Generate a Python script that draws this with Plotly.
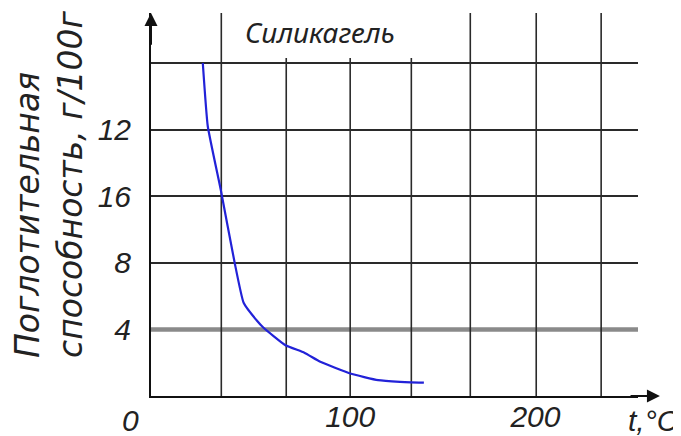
import plotly.graph_objects as go

# Data (temperature, absorption capacity)
temp = [26, 28.5, 35, 42, 46.5, 53, 56.5, 67.5, 77, 85, 100, 114, 125, 137]
capacity = [20, 16.2, 12.4, 8, 5.6, 4.55, 4.1, 3.05, 2.6, 2.05, 1.35, 0.95, 0.85, 0.8]

y_tick_vals = [4, 8, 12, 16, 20]
y_tick_text = ["4", "8", "16", "12", ""]
x_tick_vals = [100, 193]
x_tick_text = ["100", "200"]

# vertical grid line positions and their tops
x_grid_tall = [35.3, 160.3, 193.4, 226.0]
x_grid_short = [67.9, 100.0, 130.7]

X_MAX = 244.5
Y_MAX = 23.0
GRID = "#2a2a2a"
OFF = 8  # page body margin
W, H = 681 - OFF, 436 - OFF
L, R, T, B = 151 - OFF, 681 - 638, 13 - OFF, 436 - 396
PW, PH = W - L - R, H - T - B


def px_x(p):
    return (p - OFF - L) / PW


def px_y(p):
    return (H - B - (p - OFF)) / PH


fig = go.Figure()
fig.add_trace(go.Scatter(x=temp, y=capacity, mode="lines",
                         line=dict(color="#2222d8", width=2.2, shape="spline", smoothing=0.4),
                         showlegend=False, hoverinfo="skip"))

shapes = []
shapes.append(dict(type="line", xref="x", yref="y", x0=0, x1=X_MAX, y0=4, y1=4,
                   line=dict(color="#8a8a8a", width=4.5), layer="between"))
for xv in x_grid_tall:
    shapes.append(dict(type="line", xref="x", yref="y", x0=xv, x1=xv, y0=0, y1=Y_MAX,
                       line=dict(color=GRID, width=1.6), layer="between"))
for xv in x_grid_short:
    shapes.append(dict(type="line", xref="x", yref="y", x0=xv, x1=xv, y0=0, y1=20.3,
                       line=dict(color=GRID, width=1.6), layer="between"))

tick_font = dict(family="Liberation Sans", size=30, color="#222", style="italic")

annotations = [
    # axis arrows
    dict(x=255.5, y=0, ax=240, ay=0, xref="x", yref="y", axref="x", ayref="y",
         text="", showarrow=True, arrowhead=2, arrowsize=1.3, arrowwidth=2, arrowcolor="#111"),
    dict(x=0, y=Y_MAX, ax=0, ay=21.0, xref="x", yref="y", axref="x", ayref="y",
         text="", showarrow=True, arrowhead=2, arrowsize=1.3, arrowwidth=2, arrowcolor="#111"),
    dict(x=px_x(653), y=px_y(420), xref="paper", yref="paper", text="t,°C", showarrow=False,
         font=tick_font, xanchor="center", yanchor="middle"),
    dict(x=px_x(130), y=px_y(420), xref="paper", yref="paper", text="0", showarrow=False,
         font=tick_font, xanchor="center", yanchor="middle"),
    dict(x=px_x(320), y=px_y(32), xref="paper", yref="paper",
         text="Силикагель", showarrow=False, xanchor="center", yanchor="middle",
         font=dict(family="Noto Sans", size=28, color="#222", style="italic")),
    dict(x=px_x(49), y=px_y(360), xref="paper", yref="paper",
         text="Поглотительная<br>способность, г/100г", showarrow=False, textangle=-90,
         align="left", xanchor="center", yanchor="bottom",
         font=dict(family="DejaVu Sans", size=33, color="#222", style="italic")),
]

fig.update_layout(
    width=W, height=H,
    margin=dict(l=L, r=R, t=T, b=B, autoexpand=False),
    paper_bgcolor="white", plot_bgcolor="white",
    shapes=shapes, annotations=annotations,
    xaxis=dict(range=[0, X_MAX], showgrid=False, zeroline=False, showline=True,
               linecolor="#111", linewidth=2, tickmode="array", tickvals=x_tick_vals,
               ticktext=x_tick_text, ticks="", tickfont=tick_font, ticklabelstandoff=-7,
               automargin=False),
    yaxis=dict(range=[0, Y_MAX], showgrid=True, gridcolor=GRID, gridwidth=1.6,
               zeroline=False, showline=True, linecolor="#111", linewidth=2,
               tickmode="array", tickvals=y_tick_vals, ticktext=y_tick_text,
               ticks="", tickfont=tick_font, ticklabelstandoff=12, automargin=False),
)

fig.write_html("out.html")
